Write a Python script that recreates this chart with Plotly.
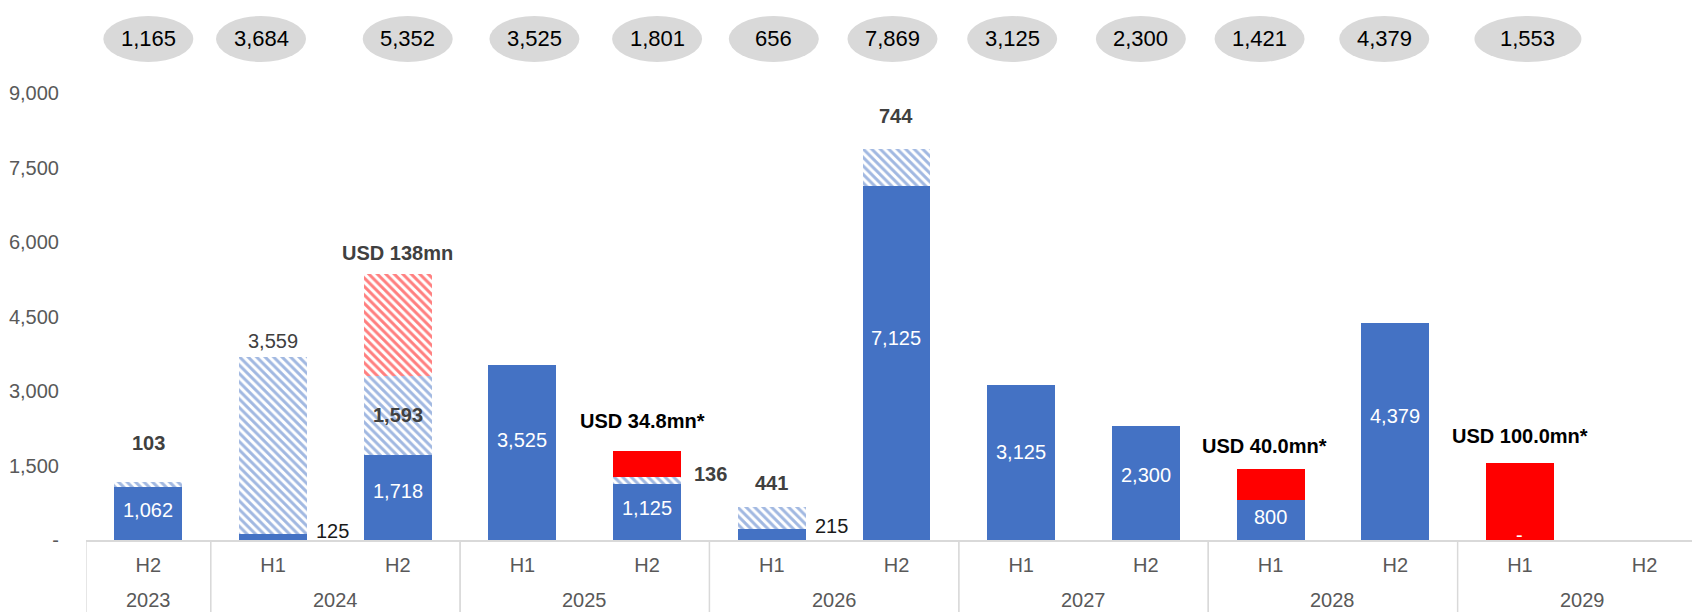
import plotly.graph_objects as go

# ---------------- data ----------------
years = ["2023", "2024", "2024", "2025", "2025", "2026", "2026",
         "2027", "2027", "2028", "2028", "2029", "2029"]
halves = ["H2", "H1", "H2", "H1", "H2", "H1", "H2",
          "H1", "H2", "H1", "H2", "H1", "H2"]
committed = [1062, 125, 1718, 3525, 1125, 215, 7125, 3125, 2300, 800, 4379, 0, None]
hatched_blue = [103, 3559, 1593, None, 136, 441, 744, None, None, None, None, None, None]
red_hatched = [None, None, 2041, None, None, None, None, None, None, None, None, None, None]
red_solid = [None, None, None, None, 540, None, None, None, None, 621, None, 1553, None]
totals = [1165, 3684, 5352, 3525, 1801, 656, 7869, 3125, 2300, 1421, 4379, 1553, None]
usd_notes = [None, None, "USD 138mn", None, "USD 34.8mn*", None, None,
             None, None, "USD 40.0mn*", None, "USD 100.0mn*", None]
y_ticks = [0, 1500, 3000, 4500, 6000, 7500, 9000]

# ---------------- style ----------------
FONT = "Arial, Liberation Sans, sans-serif"
BLUE = "#4472c4"
RED = "#ff0000"
GREY_TXT = "#595959"
DARK_TXT = "#404040"
LINE_GREY = "#d9d9d9"
BAR_W = 0.545
Y_MAX = 9000
PLOT_TOP, PLOT_BOTTOM = 93, 540
PLOT_H = PLOT_BOTTOM - PLOT_TOP

# label placement (style only)
hatched_place = ["above", "above", "inside", None, "right", "above", "above",
                 None, None, None, None, None, None]
hatched_shift = [39, 16, 0, 0, 3, 24, 33, 0, 0, 0, 0, 0, 0]
hatched_bold = [True, False, True, False, True, True, True,
                False, False, False, False, False, False]
note_shift = [0, 0, 21, 0, 30, 0, 0, 0, 0, 23, 0, 27, 0]
note_dx = [0, 0, 0, 0, -5, 0, 0, 0, 0, -6, 0, 0, 0]
note_color = [None, None, DARK_TXT, None, "#000000", None, None,
              None, None, "#000000", None, "#000000", None]
ellipse_dx = [0, -12, 10, 12, 10, 2, -4, -9, -5, -11, -11, 8, 0]
ellipse_w = [90, 90, 90, 90, 90, 90, 90, 90, 90, 90, 90, 107, 90]

x = list(range(len(halves)))

fig = go.Figure()
fig.add_trace(go.Bar(x=x, y=committed, marker=dict(color=BLUE, line=dict(width=0)),
                     hoverinfo="skip"))
fig.add_trace(go.Bar(x=x, y=hatched_blue,
                     marker=dict(color="white", line=dict(width=0),
                                 pattern=dict(shape="\\", fgcolor=BLUE, bgcolor="white",
                                              size=6, solidity=0.5)),
                     hoverinfo="skip"))
fig.add_trace(go.Bar(x=x, y=red_hatched,
                     marker=dict(color="white", line=dict(width=0),
                                 pattern=dict(shape="\\", fgcolor=RED, bgcolor="white",
                                              size=6, solidity=0.5)),
                     hoverinfo="skip"))
fig.add_trace(go.Bar(x=x, y=red_solid, marker=dict(color=RED, line=dict(width=0)),
                     hoverinfo="skip"))

ann = []
shapes = []


def v(a):
    return a if a is not None else 0


for i in x:
    c = committed[i]
    h = hatched_blue[i]
    stack_top = v(c) + v(h) + v(red_hatched[i]) + v(red_solid[i])
    # committed labels
    if c is not None:
        if c == 0:
            ann.append(dict(x=i, y=0, text="-", showarrow=False, yanchor="middle", yshift=5,
                            font=dict(family=FONT, size=20, color="white")))
        elif c < 400:
            ann.append(dict(x=i + BAR_W / 2, y=c, text=f"{c:,}", showarrow=False,
                            xanchor="left", yanchor="middle", xshift=7, yshift=3,
                            font=dict(family=FONT, size=20, color="#1a1a1a")))
        else:
            ann.append(dict(x=i, y=c * 0.57, text=f"{c:,}", showarrow=False,
                            yanchor="middle",
                            font=dict(family=FONT, size=20, color="white")))
    # hatched labels
    if h is not None and hatched_place[i]:
        txt = f"<b>{h:,}</b>" if hatched_bold[i] else f"{h:,}"
        top_h = v(c) + h
        if hatched_place[i] == "above":
            ann.append(dict(x=i, y=top_h, text=txt, showarrow=False, yanchor="middle",
                            yshift=hatched_shift[i],
                            font=dict(family=FONT, size=20, color=DARK_TXT)))
        elif hatched_place[i] == "inside":
            ann.append(dict(x=i, y=v(c) + h / 2, text=txt, showarrow=False, yanchor="middle",
                            font=dict(family=FONT, size=20, color=DARK_TXT)))
        elif hatched_place[i] == "right":
            ann.append(dict(x=i + BAR_W / 2, y=top_h, text=txt, showarrow=False,
                            xanchor="left", yanchor="middle", xshift=11,
                            yshift=hatched_shift[i],
                            font=dict(family=FONT, size=20, color=DARK_TXT)))
    # USD notes
    if usd_notes[i]:
        ann.append(dict(x=i, y=stack_top, text=f"<b>{usd_notes[i]}</b>", showarrow=False,
                        yanchor="middle", yshift=note_shift[i], xshift=note_dx[i],
                        font=dict(family=FONT, size=20, color=note_color[i])))
    # total ellipses
    if totals[i] is not None:
        yc = (PLOT_BOTTOM - 39) / PLOT_H
        w = ellipse_w[i] / 2
        shapes.append(dict(type="circle", xref="x", yref="paper",
                           xsizemode="pixel", ysizemode="pixel",
                           xanchor=i, yanchor=yc,
                           x0=-w + ellipse_dx[i], x1=w + ellipse_dx[i], y0=-23, y1=23,
                           fillcolor=LINE_GREY, line=dict(width=0), layer="above"))
        ann.append(dict(x=i, y=yc, xref="x", yref="paper", text=f"{totals[i]:,}",
                        showarrow=False, yanchor="middle", xshift=ellipse_dx[i],
                        font=dict(family=FONT, size=22, color="#000000")))

# year group labels + dividers
groups = []
for i, yr in enumerate(years):
    if not groups or groups[-1][0] != yr:
        groups.append([yr, i, i])
    else:
        groups[-1][2] = i
y_year = -(600 - PLOT_BOTTOM) / PLOT_H
for yr, a, b in groups:
    ann.append(dict(x=(a + b) / 2, y=y_year, xref="x", yref="paper", text=yr,
                    showarrow=False, yanchor="middle",
                    font=dict(family=FONT, size=20, color=GREY_TXT)))
    for bnd in (a - 0.5, b + 0.5):
        shapes.append(dict(type="line", xref="x", yref="paper", x0=bnd, x1=bnd,
                           y0=0, y1=-0.2, line=dict(color=LINE_GREY, width=1.3),
                           layer="below"))

fig.update_layout(
    width=1692, height=612,
    margin=dict(l=86, r=0, t=PLOT_TOP, b=612 - PLOT_BOTTOM, pad=0),
    barmode="stack", bargap=1 - BAR_W,
    showlegend=False,
    plot_bgcolor="white", paper_bgcolor="white",
    font=dict(family=FONT, size=20, color=GREY_TXT),
    annotations=ann, shapes=shapes,
    xaxis=dict(range=[-0.5, 12.38], tickvals=x, ticktext=halves, showgrid=False,
               zeroline=False, showline=True, linecolor=LINE_GREY, linewidth=2,
               ticks="outside", ticklen=6, tickcolor="rgba(0,0,0,0)",
               tickfont=dict(family=FONT, size=20, color=GREY_TXT)),
    yaxis=dict(range=[0, Y_MAX], tickvals=y_ticks,
               ticktext=["-" if t == 0 else f"{t:,}" for t in y_ticks],
               showgrid=False, zeroline=False, showline=False,
               ticks="outside", ticklen=22, tickcolor="rgba(0,0,0,0)",
               tickfont=dict(family=FONT, size=20, color=GREY_TXT)),
)

fig.write_html("out.html", config={"displayModeBar": False},
               post_script="document.body.style.margin='0';")
